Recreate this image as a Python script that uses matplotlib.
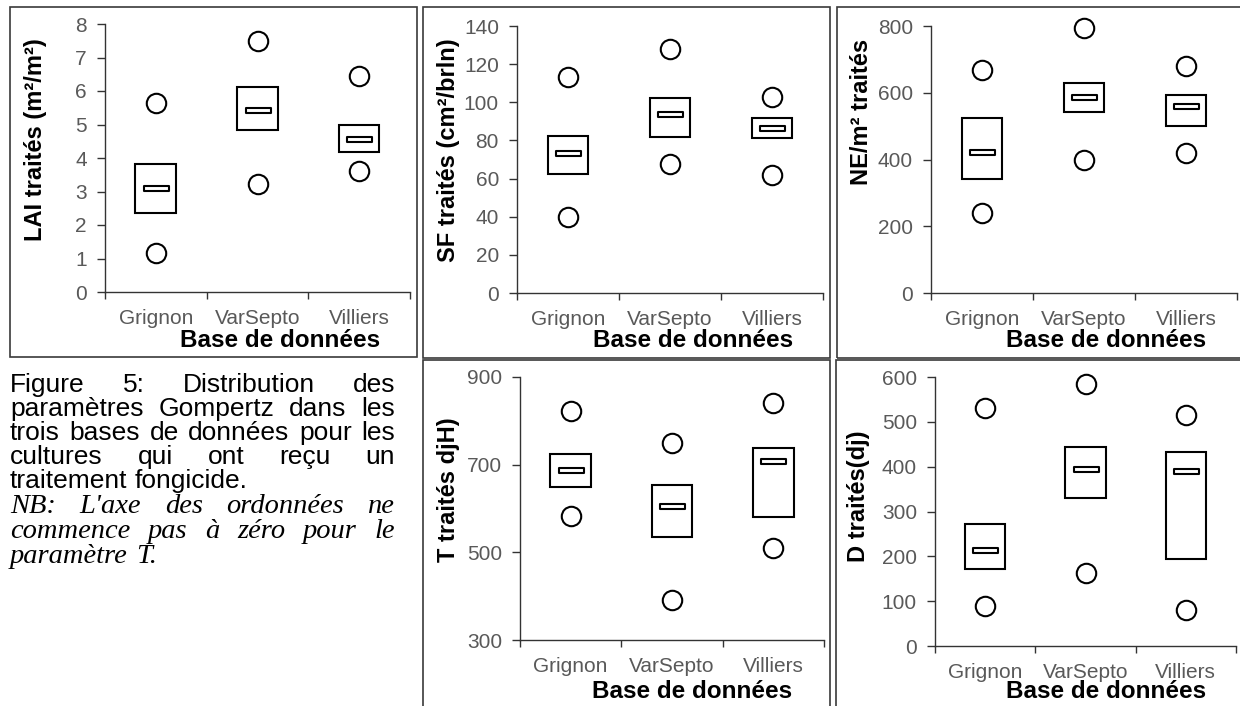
import numpy as np
import matplotlib
matplotlib.use('Agg')
import matplotlib.pyplot as plt
from matplotlib.path import Path
from matplotlib.patches import Rectangle

W, H = 1240, 706

bases = ['Grignon', 'VarSepto', 'Villiers']

# LAI traités (m²/m²)
lai_max = [5.65, 7.48, 6.45]
lai_q3 = [3.82, 6.11, 5.00]
lai_med = [3.10, 5.43, 4.56]
lai_q1 = [2.35, 4.84, 4.17]
lai_min = [1.15, 3.21, 3.61]

# SF traités (cm²/brin)
sf_max = [113, 128, 103]
sf_q3 = [82.4, 102, 91.8]
sf_med = [73.2, 93.6, 86.6]
sf_q1 = [62.2, 81.9, 81.4]
sf_min = [40, 67.5, 62]

# NE/m² traités
ne_max = [669, 795, 680]
ne_q3 = [523, 629, 594]
ne_med = [422, 587, 560]
ne_q1 = [341, 541, 500]
ne_min = [241, 400, 419]

# T traités (djH)
t_max = [822, 750, 841]
t_q3 = [725, 654, 739]
t_med = [687, 606, 708]
t_q1 = [649, 535, 580]
t_min = [583, 391, 510]

# D traités (dj)
d_max = [531, 585, 515]
d_q3 = [272, 443, 432]
d_med = [215, 394, 391]
d_q1 = [172, 330, 195]
d_min = [90, 163, 80]

plt.rcParams['font.family'] = ['Liberation Sans', 'DejaVu Sans']

fig = plt.figure(figsize=(W / 100, H / 100), dpi=100)
fig.patch.set_facecolor('white')


def fx(x):
    return x / W


def fy(y):
    return 1 - y / H


# trait de médiane : petit rectangle plat
med_marker = Path([(-0.5, -0.1), (0.5, -0.1), (0.5, 0.1), (-0.5, 0.1), (-0.5, -0.1)],
                  [Path.MOVETO, Path.LINETO, Path.LINETO, Path.LINETO, Path.CLOSEPOLY])

gris = '#595959'
axe = '#333333'


def panneau(rect, ylim, ystep, vmax, q3, med, q1, vmin, ylabel, ylab_xy, xlab_xy):
    l, t, r, b = rect
    ax = fig.add_axes([fx(l), fy(b), (r - l) / W, (b - t) / H])
    x = np.arange(len(bases)) + 0.5
    hauteurs = [a - c for a, c in zip(q3, q1)]
    ax.bar(x, hauteurs, bottom=q1, width=0.4, facecolor='white',
           edgecolor='black', linewidth=1.5, zorder=2)
    ax.plot(x, med, linestyle='none', marker=med_marker, ms=18,
            mfc='white', mec='black', mew=1.5, zorder=3)
    for serie in (vmax, vmin):
        ax.plot(x, serie, linestyle='none', marker='o', ms=14, mfc='white',
                mec='black', mew=1.5, zorder=3, clip_on=False)
    ax.set_xlim(0, 3)
    ax.set_ylim(*ylim)
    for s in ('top', 'right'):
        ax.spines[s].set_visible(False)
    for s in ('left', 'bottom'):
        ax.spines[s].set_color(axe)
        ax.spines[s].set_linewidth(1.0)
    ax.set_xticks([0, 1, 2, 3])
    ax.set_xticklabels([])
    ax.set_xticks(x, minor=True)
    ax.set_xticklabels(bases, minor=True)
    ax.tick_params(axis='x', which='major', direction='out', length=5, width=1, color=axe)
    ax.tick_params(axis='x', which='minor', length=0, pad=12, labelsize=15, labelcolor=gris)
    ax.set_yticks(np.arange(ylim[0], ylim[1] + 1, ystep))
    ax.tick_params(axis='y', direction='out', length=6, width=1, color=axe,
                   pad=7, labelsize=15, labelcolor=gris)
    fig.text(fx(ylab_xy[0]), fy(ylab_xy[1]), ylabel, rotation=90, fontsize=17,
             fontweight='bold', ha='center', va='center')
    fig.text(fx(xlab_xy[0]), fy(xlab_xy[1]), 'Base de données', fontsize=17.5,
             fontweight='bold', ha='center', va='center')
    return ax


panneau((105, 24, 410, 292), (0, 8), 1, lai_max, lai_q3, lai_med, lai_q1, lai_min,
        'LAI traités (m²/m²)', (36, 140), (280, 340))
panneau((517, 26, 823, 293), (0, 140), 20, sf_max, sf_q3, sf_med, sf_q1, sf_min,
        'SF traités (cm²/brln)', (449, 150), (693, 340))
panneau((931, 26, 1237, 293), (0, 800), 200, ne_max, ne_q3, ne_med, ne_q1, ne_min,
        'NE/m² traités', (862, 112), (1106, 340))
panneau((520, 377, 824, 640), (300, 900), 200, t_max, t_q3, t_med, t_q1, t_min,
        'T traités djH)', (448, 490), (692, 692))
panneau((935, 377, 1236, 646), (0, 600), 100, d_max, d_q3, d_med, d_q1, d_min,
        'D traités(dj)', (859, 496), (1106, 692))

# cadres des graphiques
cadres = [(10, 7, 417, 357), (423, 7, 830, 358), (837, 7, 1250, 358),
          (423, 360, 830, 720), (836, 360, 1250, 720)]
for x0, y0, x1, y1 in cadres:
    fig.add_artist(Rectangle((fx(x0), fy(y1)), (x1 - x0) / W, (y1 - y0) / H,
                             transform=fig.transFigure, fill=False,
                             edgecolor='#3a3a3a', linewidth=1.2))

# légende de la figure, texte justifié
renderer = fig.canvas.get_renderer()


def ligne(mots, y, justifier, x0=10, x1=395, **kw):
    textes = [fig.text(0, 0, m, va='baseline', ha='left', **kw) for m in mots]
    larg = [t.get_window_extent(renderer).width for t in textes]
    if justifier and len(mots) > 1:
        ecart = (x1 - x0 - sum(larg)) / (len(mots) - 1)
    else:
        ecart = kw.get('fontsize', 12) * 100 / 72 * 0.28
    x = x0
    for t, w in zip(textes, larg):
        t.set_position((fx(x), fy(y)))
        x += w + ecart


sans = dict(fontsize=19, family='Liberation Sans', color='black')
serif = dict(fontsize=20.5, family='Liberation Serif', style='italic', color='black')

ligne(['Figure', '5:', 'Distribution', 'des'], 392, True, **sans)
ligne(['paramètres', 'Gompertz', 'dans', 'les'], 416, True, **sans)
ligne(['trois', 'bases', 'de', 'données', 'pour', 'les'], 440, True, **sans)
ligne(['cultures', 'qui', 'ont', 'reçu', 'un'], 464, True, **sans)
ligne(['traitement', 'fongicide.'], 488, False, **sans)
ligne(['NB:', "L'axe", 'des', 'ordonnées', 'ne'], 513, True, **serif)
ligne(['commence', 'pas', 'à', 'zéro', 'pour', 'le'], 538, True, **serif)
ligne(['paramètre', 'T.'], 563, False, **serif)

fig.savefig('out.png', dpi=100, facecolor='white')
